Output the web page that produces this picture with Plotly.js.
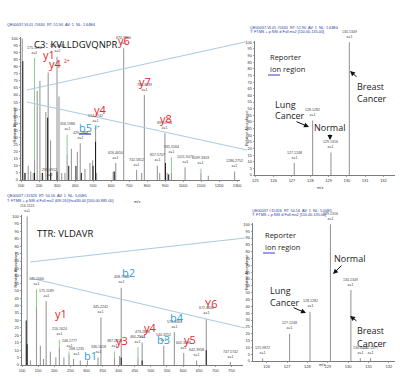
<!DOCTYPE html>
<html><head><meta charset="utf-8">
<script src="https://cdn.plot.ly/plotly-3.0.1.min.js"></script>
<style>html,body{margin:0;padding:0;background:#fff}#chart{width:400px;height:377px}</style>
</head><body><div id="chart"></div>
<script>
// ---------- DATA ----------
// Top-left: C3 KVLLDGVQNPR MS2 spectrum (m/z, relative abundance %)
const tlMz   = [107,122,140,154,168,175,190,205,220,238,251,264,300,311,326,344,356,380,413,429,455,483,498,514,520,612,626,670,742,770,785,857,870,899,912,935,1011,1099,1140,1286];
const tlInt  = [100,5,10,6,5,14,63,70,5,48,76,28,87,59,5,5,18,22,20,26,8,12,14,38,5,6,12,93,7,5,60,10,5,33,5,5,9,5,3,6];
const tlDarkMz  = [110,122,175,218,248,265,300,365,405,435,500,514,618,902,920];
const tlDarkInt = [84,5,5,5,44,5,6,10,10,5,10,27,6,12,4];
const tlLabMz   = [175,258,300,356,429,514,626,670,742,785,857,899,935,1011,1099,1286];
const tlLabTxt  = ["175.1194","258.0912","300.2065","356.1986","429.2988","514.2742","626.4650","670.3860","742.5812","785.3939","857.5707","899.4794","935.5564","1011.5072","1099.3303","1286.2752"];
const tlLabZ    = ["z=1","z=2","z=2","z=1","z=1","z=1","z=1","z=1","z=1","z=1","z=1","z=1","z=1","z=1","z=1","z=1"];

// Top-right: reporter ion region (C3)
const trMz  = [127.125,128.128,129.131,130.135];
const trInt = [9,41,17,100];
const trTxt = ["127.1248","128.1282","129.1316","130.1349"];

// Bottom-left: TTR VLDAVR MS2 spectrum
const blMz  = [116,126,145,157,167,175,188,205,216,230,246,260,281,303,336,345,387,403,408,460,473,540,573,602,642,672,747];
const blInt = [100,3,39,13,4,43,9,5,12,5,7,4,3,3,5,32,5,6,52,5,15,13,22,8,3,31,2];
const blDarkMz  = [113,116,408,473,672];
const blDarkInt = [30,14,5,3,10];
const blLabMz  = [116,145,175,216,246,268,336,345,387,408,460,473,540,573,602,642,672,747];
const blLabTxt = ["116.1113","145.1060","175.1189","216.1624","246.1777","268.1235","336.1618","345.2242","387.2614","408.7564","460.2514","473.2888","540.3252","573.3363","602.3398","642.3958","672.4040","747.5742"];

// Bottom-right: reporter ion region (TTR)
const brMz  = [125.8,127.125,128.128,129.131,130.135,130.6,131.1];
const brInt = [2,20,36,100,52,2,2];
const brTxt = ["125.9872","127.1248","128.1282","129.1316","130.1349","130.6021","131.1377"];

// ---------- helpers ----------
const W=400,H=377;
const PX=p=>p/W, PY=p=>1-p/H;
function stems(mz,it){const x=[],y=[];mz.forEach((m,i)=>{x.push(m,m,null);y.push(0,it[i],null);});return {x,y};}
function lookup(mz,it,m){const i=mz.indexOf(m);return i>=0?it[i]:0;}

const GRAY='#9a9a9a', DARK='#1a1a1a', RED='#e8262a', BLUE='#2f9fd8', HBLUE='#1f3c9c';
const traces=[];
function addSpec(mz,it,ax,color,w){const s=stems(mz,it);traces.push({x:s.x,y:s.y,xaxis:'x'+ax,yaxis:'y'+ax,mode:'lines',line:{color:color,width:w},hoverinfo:'skip',showlegend:false});}
addSpec(tlMz,tlInt,'',GRAY,1.1); addSpec(tlDarkMz,tlDarkInt,'',DARK,1);
addSpec(trMz,trInt,'2',GRAY,1.1);
addSpec(blMz,blInt,'3',GRAY,1.1); addSpec(blDarkMz,blDarkInt,'3',DARK,1);
addSpec(brMz,brInt,'4',GRAY,1.1);
traces[0].xaxis='x';traces[0].yaxis='y';traces[1].xaxis='x';traces[1].yaxis='y';

const tickF={family:'Liberation Sans, Arial',size:4,color:'#333'};
function xa(d0,d1,r,dt,anchor){return {domain:[PX(d0),PX(d1)],range:r,dtick:dt,tick0:0,anchor:anchor,showgrid:false,zeroline:false,showline:true,linecolor:'#444',linewidth:0.7,ticks:'outside',ticklen:1.5,tickwidth:0.5,tickcolor:'#444',tickfont:tickF};}
function ya(t,b,anchor){return {domain:[PY(b),PY(t)],range:[0,101],dtick:5,anchor:anchor,showgrid:false,zeroline:false,showline:true,linecolor:'#444',linewidth:0.7,ticks:'outside',ticklen:1.5,tickwidth:0.5,tickcolor:'#444',tickfont:tickF};}

const layout={width:W,height:H,margin:{l:0,r:0,t:0,b:0},paper_bgcolor:'#fff',plot_bgcolor:'rgba(0,0,0,0)',showlegend:false,
 xaxis:xa(21,240,[100,1316],100,'y'), yaxis:ya(37,180,'x'),
 xaxis2:xa(255,395,[124.98,132.63],1,'y2'), yaxis2:ya(41,175,'x2'),
 xaxis3:xa(22,243,[100,786],50,'y3'), yaxis3:ya(215,365,'x3'),
 xaxis4:xa(253,395,[125.33,132.3],1,'y4'), yaxis4:ya(223,361,'x4'),
 annotations:[],shapes:[]};

const A=layout.annotations, S=layout.shapes;
const LF='Liberation Sans, Arial';
function pt(text,x,y,size,color,opts){A.push(Object.assign({text:text,x:PX(x),y:PY(y),xref:'paper',yref:'paper',showarrow:false,font:{family:'Open Sans, Lato',size:size,color:color},xanchor:'center',yanchor:'middle'},opts||{}));}
function peakLab(xr,yr,m,txt,z,ylab,green){
  A.push({text:txt+'<br>z='+z,x:m,y:ylab,xref:xr,yref:yr,showarrow:false,font:{family:LF,size:3.6,color:'#444'},xanchor:'center',yanchor:'bottom',yshift:0});
}
// top-left peak labels
const tlGreen={175:87,356:33,935:17,1099:9};
tlLabMz.forEach((m,i)=>{const h=lookup(tlMz,tlInt,m)||lookup(tlDarkMz,tlDarkInt,m);const g=tlGreen[m];
  const yl=g!==undefined?g:h+1; peakLab('x','y',m,tlLabTxt[i],tlLabZ[i].slice(2),yl);
  if(g!==undefined){S.push({type:'line',xref:'x',yref:'y',x0:m,x1:m,y0:g-1,y1:h,line:{color:'#6cc36c',width:0.8}});}
});
// top-right
trMz.forEach((m,i)=>peakLab('x2','y2',m,trTxt[i],'1',trInt[i]+1));
// bottom-left
const blGreen={145:52,216:18,246:10,387:10,460:13};
blLabMz.forEach((m,i)=>{let h=lookup(blMz,blInt,m);const g=blGreen[m];
  if(m===268){h=4;}
  const yl=g!==undefined?g:h+1; peakLab('x3','y3',m,blLabTxt[i],'1',yl);
  if(g!==undefined){S.push({type:'line',xref:'x3',yref:'y3',x0:m,x1:m,y0:g-1,y1:h,line:{color:'#6cc36c',width:0.8}});}
});
// bottom-right
brMz.forEach((m,i)=>peakLab('x4','y4',m,brTxt[i],'1',brInt[i]+1));

// headers
function hdr(text,x,y){A.push({text:text,x:PX(x),y:PY(y),xref:'paper',yref:'paper',showarrow:false,font:{family:LF,size:3.8,color:HBLUE},xanchor:'left',yanchor:'middle'});}
hdr('QE00037-VL01 #5630  RT: 51.90  AV: 1  NL: 1.64E4',5,25);
hdr('QE00037-VL01 #5630  RT: 51.90  AV: 1  NL: 1.64E4',248,28);
hdr('T: FTMS + p NSI d Full ms2 [110.00-135.00]',248,32);
hdr('QE00037 #15326  RT: 50.16  AV: 1  NL: 5.00E5',5,196);
hdr('T: FTMS + p NSI d Full ms2 409.24@hcd30.00 [100.00-885.00]',5,201);
hdr('QE00037 #15326  RT: 50.16  AV: 1  NL: 5.00E5',250,211);
hdr('T: FTMS + p NSI d Full ms2 [110.00-135.00]',250,215);
// axis titles
function ytl(x,y){A.push({text:'Relative Abundance',x:PX(x),y:PY(y),xref:'paper',yref:'paper',showarrow:false,textangle:-90,font:{family:LF,size:4,color:'#333'}});}
ytl(9,105); ytl(246,108); ytl(10,290); ytl(246,292);
function xtl(x,y){A.push({text:'m/z',x:PX(x),y:PY(y),xref:'paper',yref:'paper',showarrow:false,font:{family:LF,size:4,color:'#333'}});}
xtl(132,201); xtl(325,188); xtl(327,369);

// peptide titles
pt('C3: KVLLDGVQNPR',75,44,9.5,'#111');
pt('TTR: VLDAVR',65,233,9.5,'#111');
// ion labels top-left
pt('y6',124,40,11,RED); pt('y1',49,54,11,RED); pt('y4',55,64,11,RED); pt('2+',67,61,5,RED);
pt('y7',145,81,11,RED); pt('y4',100,110,11,RED); pt('y8',166,118,11,RED);
pt('b5',85,128,11,BLUE); pt('3+',97,127,5,BLUE);
S.push({type:'line',xref:'paper',yref:'paper',x0:PX(79),x1:PX(91),y0:PY(134),y1:PY(134),line:{color:'#3a6fd8',width:1.5}});
// ion labels bottom-left
pt('b2',128,272,11,BLUE); pt('y1',61,313,11,RED); pt('b1',90,355,11,BLUE); pt('y3',122,340,11,RED);
pt('y4',150,327,11,RED); pt('b3',163,339,11,BLUE); pt('b4',177,317,11,BLUE); pt('y5',190,339,11,RED); pt('Y6',211,303,11,RED);

// reporter panels text
const TF='Open Sans, Lato';
function tx(text,x,y,size){A.push({text:text,x:PX(x),y:PY(y),xref:'paper',yref:'paper',showarrow:false,font:{family:TF,size:size,color:'#222'},xanchor:'left',yanchor:'middle'});}
tx('Reporter',268,57,7.5); tx('ion region',268,69,7.5);
S.push({type:'line',xref:'paper',yref:'paper',x0:PX(268),x1:PX(280),y0:PY(75),y1:PY(75),line:{color:'#3a3ad8',width:1}});
tx('Breast',355,86,9); tx('Cancer',355,99,9);
tx('Lung',273,104,9); tx('Cancer',273,115,9);
tx('Normal',312,127,9);
tx('Reporter',263,235,7.5); tx('ion region',263,247,7.5);
S.push({type:'line',xref:'paper',yref:'paper',x0:PX(263),x1:PX(275),y0:PY(253),y1:PY(253),line:{color:'#3a3ad8',width:1}});
tx('Normal',332,258,9);
tx('Lung',268,290,9); tx('Cancer',268,302,9);
tx('Breast',355,330,9); tx('Cancer',355,343,9);
function arr(x0,y0,x1,y1){A.push({x:PX(x1),y:PY(y1),ax:PX(x0),ay:PY(y0),xref:'paper',yref:'paper',axref:'paper',ayref:'paper',showarrow:true,arrowhead:2,arrowsize:1,arrowwidth:1,arrowcolor:'#111',text:''});}
arr(358,78,350,71); arr(295,121,309,127); arr(330,133,330,140);
arr(343,264,333,274); arr(292,307,306,313); arr(358,322,350,316);

// zoom lines
function zl(x0,y0,x1,y1){S.push({type:'line',xref:'paper',yref:'paper',x0:PX(x0),y0:PY(y0),x1:PX(x1),y1:PY(y1),line:{color:'#a9cbe0',width:1}});}
zl(27,90,245,42); zl(27,102,247,150);
zl(30,262,245,238); zl(30,278,245,328);

Plotly.newPlot('chart',traces,layout,{staticPlot:true,displayModeBar:false});
</script></body></html>
